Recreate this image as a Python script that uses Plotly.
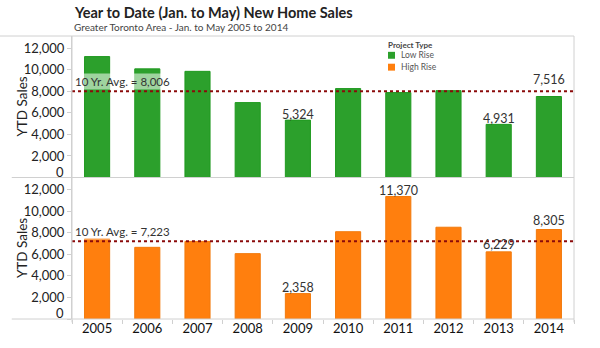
import plotly.graph_objects as go
from plotly.subplots import make_subplots

# Year-to-date (Jan.-May) new home sales, Greater Toronto Area
years = ["2005", "2006", "2007", "2008", "2009", "2010", "2011", "2012", "2013", "2014"]
low_rise = [11220, 10080, 9850, 6950, 5324, 8250, 7880, 8060, 4931, 7516]
high_rise = [7440, 6650, 7200, 6065, 2358, 8100, 11370, 8516, 6229, 8305]

# years whose bars carry a value label, with the label's lift above the bar (px)
low_labeled = {"2009": 6, "2013": 6, "2014": 17}
high_labeled = {"2009": 6, "2011": 6, "2013": 7, "2014": 9}

y_ticks = [0, 2000, 4000, 6000, 8000, 10000, 12000]

GREEN = "#2ca02c"
ORANGE = "#ff7f0e"
AVG_COLOR = "#8b0a0a"
RULE = "#d0d0d0"
TEXT = "#222222"
FONT = "Lato"

fig = make_subplots(rows=2, cols=1, shared_xaxes=True, vertical_spacing=0)

fig.add_trace(go.Bar(
    x=years, y=low_rise, name="Low Rise",
    marker=dict(color=GREEN, line=dict(color="#1f9a1f", width=1)),
    showlegend=False,
), row=1, col=1)

fig.add_trace(go.Bar(
    x=years, y=high_rise, name="High Rise",
    marker=dict(color=ORANGE, line=dict(color="#f27a0c", width=1)),
    showlegend=False,
), row=2, col=1)

y_max = 13130
panels = [(low_rise, low_labeled, "x", "y"), (high_rise, high_labeled, "x2", "y2")]
for r, (series, labeled, xref, yref) in enumerate(panels, start=1):
    # value labels above selected bars (x given as the category's index)
    for i, (yr, v) in enumerate(zip(years, series)):
        if yr in labeled:
            fig.add_annotation(xref=xref, x=i, yref=yref, y=v, yanchor="middle",
                               yshift=labeled[yr], text=f"{v:,}", showarrow=False,
                               font=dict(family=FONT, size=12.5, color="#333333"))
    avg = sum(series) / len(series)
    # dotted ten-year average rule across the panel
    fig.add_shape(type="line", xref="paper", x0=0, x1=1, yref=yref, y0=avg, y1=avg,
                  line=dict(color=AVG_COLOR, width=2, dash="dot"))
    fig.add_annotation(xref="paper", x=0, xanchor="left", xshift=1,
                       yref=yref, y=avg, yanchor="bottom", yshift=1,
                       text=f"10 Yr. Avg. = {avg:,.0f}", showarrow=False,
                       font=dict(family=FONT, size=11.5, color="#333333"),
                       bgcolor="rgba(255,255,255,0.55)", borderpad=1)
    # "0" label sits a little above the baseline
    fig.add_annotation(xref="paper", x=0, xanchor="right", xshift=-6,
                       yref=yref, y=0, yanchor="middle", yshift=6,
                       text="0", showarrow=False,
                       font=dict(family=FONT, size=13, color=TEXT))
    fig.update_yaxes(row=r, col=1, range=[0, y_max], tickvals=y_ticks,
                     ticktext=["" if v == 0 else f"{v:,}" for v in y_ticks],
                     ticks="outside", ticklen=4, tickcolor=RULE,
                     tickfont=dict(family=FONT, size=13, color=TEXT),
                     showgrid=False, zeroline=False,
                     showline=True, linecolor=RULE, linewidth=1)
    # axis title
    fig.add_annotation(xref="paper", x=-0.1, xanchor="center",
                       yref="paper", y=0.75 if r == 1 else 0.25, yanchor="middle",
                       text="YTD Sales", textangle=-90, showarrow=False,
                       font=dict(family=FONT, size=13.5, color=TEXT))

fig.update_xaxes(type="category", categoryorder="array", categoryarray=years,
                 range=[-0.5, len(years) - 0.5],
                 showgrid=False, showline=False, zeroline=False)
fig.update_xaxes(row=2, col=1, ticks="outside", tickson="boundaries", ticklen=4,
                 tickcolor=RULE, tickfont=dict(family=FONT, size=13, color="#111111"))

# frame rules
fig.add_shape(type="line", xref="paper", yref="paper", x0=-0.1434, x1=1, y0=1, y1=1,
              line=dict(color=RULE, width=1))
fig.add_shape(type="line", xref="paper", yref="paper", x0=-0.12, x1=1, y0=0.5, y1=0.5,
              line=dict(color=RULE, width=1))
fig.add_shape(type="line", xref="paper", yref="paper", x0=-0.12, x1=1, y0=0, y1=0,
              line=dict(color=RULE, width=1))
fig.add_shape(type="line", xref="paper", yref="paper", x0=1, x1=1, y0=-0.012, y1=1,
              line=dict(color=RULE, width=1))
fig.add_shape(type="line", xref="paper", yref="paper", x0=0, x1=0, y0=-0.012, y1=1,
              line=dict(color=RULE, width=1))

# title and subtitle
fig.add_annotation(xref="paper", x=0, xanchor="left", yref="paper", y=1.084, yanchor="middle",
                   text="<b>Year to Date (Jan. to May) New Home Sales</b>", showarrow=False,
                   font=dict(family=FONT, size=14.5, color=TEXT))
fig.add_annotation(xref="paper", x=0, xanchor="left", yref="paper", y=1.0325, yanchor="middle",
                   text="Greater Toronto Area - Jan. to May 2005 to 2014", showarrow=False,
                   font=dict(family=FONT, size=10, color="#444444"))

# legend block
lx = (386 - 72) / 502
fig.add_annotation(xref="paper", x=lx, xanchor="left", yref="paper", y=(322 - 45) / 286,
                   yanchor="middle", text="<b>Project Type</b>", showarrow=False,
                   font=dict(family=FONT, size=8, color="#444444"))
for i, (name, col) in enumerate([("Low Rise", GREEN), ("High Rise", ORANGE)]):
    cy = 55.5 + 12 * i
    x0 = (388 - 72) / 502
    x1 = (395 - 72) / 502
    fig.add_shape(type="rect", xref="paper", yref="paper", x0=x0, x1=x1,
                  y0=(322 - cy - 3.5) / 286, y1=(322 - cy + 3.5) / 286,
                  fillcolor=col, line=dict(color=col, width=0))
    fig.add_annotation(xref="paper", x=(399 - 72) / 502, xanchor="left", yref="paper",
                       y=(322 - cy) / 286, yanchor="middle", text=name, showarrow=False,
                       font=dict(family=FONT, size=8.5, color="#555555"))

fig.update_layout(
    width=600, height=348,
    margin=dict(l=72, r=26, t=36, b=26),
    paper_bgcolor="white", plot_bgcolor="white",
    bargap=0.5, showlegend=False,
    font=dict(family=FONT, color=TEXT),
)

fig.write_html("out.html")
